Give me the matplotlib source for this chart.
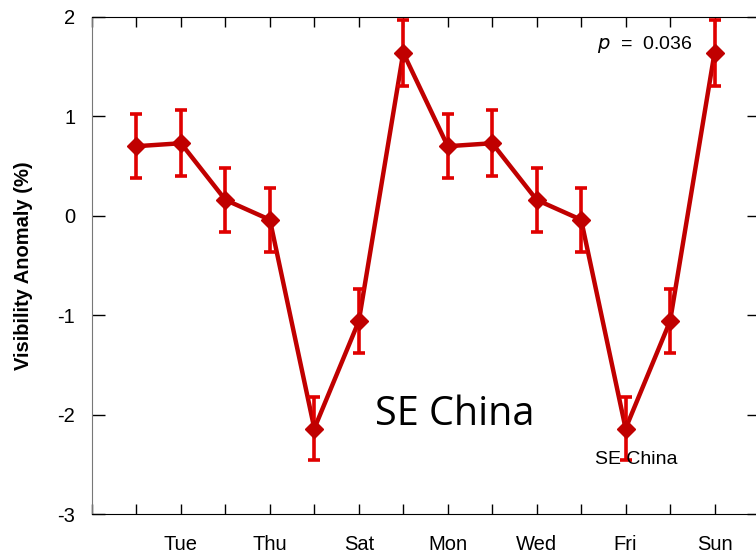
import matplotlib
matplotlib.use("Agg")
import matplotlib.pyplot as plt
import numpy as np

days = ["Mon", "Tue", "Wed", "Thu", "Fri", "Sat", "Sun"] * 2
anomaly = [0.70, 0.73, 0.16, -0.04, -2.14, -1.06, 1.64] * 2
err = [0.32, 0.33, 0.32, 0.32, 0.32, 0.32, 0.33] * 2
yticks = [-3, -2, -1, 0, 1, 2]

plt.rcParams['font.family'] = ['Liberation Sans', 'DejaVu Sans']

fig = plt.figure(figsize=(7.56, 5.54), dpi=100)
ax = fig.add_axes([92 / 756, 1 - 514 / 554, 667 / 756, 497 / 554])

x = np.arange(1, len(anomaly) + 1)
ax.plot(x, anomaly, color="#c00000", lw=3.2, zorder=2)
ax.errorbar(x, anomaly, yerr=err, fmt="none", ecolor="#e00000",
            elinewidth=2.6, capsize=4.4, capthick=2.6, zorder=3)
ax.plot(x, anomaly, "D", color="#c00000", ms=9, zorder=4)

ax.set_xlim(0, 15)
ax.set_ylim(-3, 2)
ax.set_xticks(range(0, 16))
ax.set_xticklabels([""] + [d if i % 2 == 1 else "" for i, d in enumerate(days)] + [""])
ax.set_yticks(yticks)
ax.set_yticklabels([str(v) for v in yticks])

ax.tick_params(axis="x", direction="in", length=7, width=1, top=True, bottom=True,
               labelsize=14.5, pad=15)
ax.tick_params(axis="y", direction="in", length=9, width=1, left=True, right=True,
               labelsize=14.5, pad=12)
ax.spines["left"].set_color("#777777")
for s in ["top", "bottom", "right"]:
    ax.spines[s].set_color("black")

ax.set_ylabel("Visibility Anomaly (%)", fontsize=14.5, fontweight="bold")
ax.yaxis.set_label_coords(-0.088, 0.5)

ax.text(13.5, 1.72, r"$\it{p}$  =  0.036", fontsize=14, ha="right", va="center")
ax.text(8.16, -2.0, "SE China", fontsize=28.5, ha="center", va="center",
        family=["Open Sans", "DejaVu Sans"])
ax.text(12.23, -2.45, "SE China", fontsize=14, ha="center", va="center")

fig.savefig("out.png", dpi=100)
